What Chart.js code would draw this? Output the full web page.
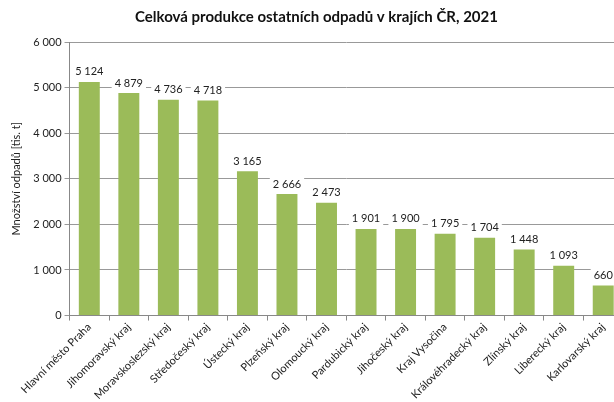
<!DOCTYPE html>
<html>
<head>
<meta charset="utf-8">
<script src="https://cdn.jsdelivr.net/npm/chart.js@4/dist/chart.umd.min.js"></script>
<style>
  html, body { margin: 0; padding: 0; background: #fff; overflow: hidden; }
  #wrap { position: relative; width: 631px; height: 402px; }
</style>
</head>
<body>
<div id="wrap"><canvas id="odpadyChart"></canvas></div>
<script>
  var kraje = ['Hlavní město Praha', 'Jihomoravský kraj', 'Moravskoslezský kraj', 'Středočeský kraj',
    'Ústecký kraj', 'Plzeňský kraj', 'Olomoucký kraj', 'Pardubický kraj', 'Jihočeský kraj',
    'Kraj Vysočina', 'Královéhradecký kraj', 'Zlínský kraj', 'Liberecký kraj', 'Karlovarský kraj'];
  var produkce = [5124, 4879, 4736, 4718, 3165, 2666, 2473, 1901, 1900, 1795, 1704, 1448, 1093, 660];
  var yTicks = [0, 1000, 2000, 3000, 4000, 5000, 6000];

  var FONT = 'Lato, "Open Sans", sans-serif';

  function fmt(v) {
    return String(v).replace(/\B(?=(\d{3})+(?!\d))/g, ' ');
  }

  // value labels above the bars, white box behind (like Excel)
  var barLabels = {
    id: 'barLabels',
    afterDatasetsDraw: function (chart) {
      var ctx = chart.ctx;
      var meta = chart.getDatasetMeta(0);
      ctx.save();
      ctx.font = '11px ' + FONT;
      ctx.textAlign = 'center';
      ctx.textBaseline = 'middle';
      meta.data.forEach(function (bar, i) {
        var txt = fmt(produkce[i]);
        var w = ctx.measureText(txt).width;
        var y = bar.y - 10;
        ctx.fillStyle = '#fff';
        ctx.fillRect(bar.x - w / 2 - 3, y - 7, w + 6, 14);
        ctx.fillStyle = '#222';
        ctx.fillText(txt, bar.x, y);
      });
      ctx.restore();
    }
  };

  var ch = new Chart(document.getElementById('odpadyChart').getContext('2d'), {
    type: 'bar',
    data: {
      labels: kraje,
      datasets: [{
        data: produkce,
        backgroundColor: '#9bbb59',
        borderWidth: 0,
        barPercentage: 0.53,
        categoryPercentage: 1
      }]
    },
    options: {
      responsive: true,
      maintainAspectRatio: false,
      animation: false,
      layout: { padding: { left: 10, right: 8, top: 5, bottom: 0 } },
      plugins: {
        legend: { display: false },
        tooltip: { enabled: false },
        title: {
          display: true,
          text: 'Celková produkce ostatních odpadů v krajích ČR, 2021',
          color: '#111',
          font: { family: FONT, size: 15, weight: 'bold' },
          padding: { top: 3, bottom: 16 }
        }
      },
      scales: {
        x: {
          grid: { display: true, drawOnChartArea: false, offset: true, color: '#888', tickLength: 5 },
          border: { color: '#888' },
          ticks: {
            color: '#222',
            font: { family: FONT, size: 11 },
            minRotation: 45,
            maxRotation: 45,
            padding: 0
          }
        },
        y: {
          min: 0,
          max: 6000,
          afterBuildTicks: function (axis) {
            axis.ticks = yTicks.map(function (v) { return { value: v }; });
          },
          grid: { color: '#999', tickLength: 5 },
          border: { color: '#888' },
          ticks: {
            color: '#222',
            font: { family: FONT, size: 11 },
            padding: 3,
            callback: function (v) { return fmt(v); }
          },
          title: {
            display: true,
            text: 'Množství odpadů [tis. t]',
            color: '#222',
            font: { family: FONT, size: 11 },
            padding: { top: 0, bottom: 7 }
          }
        }
      }
    },
    plugins: [barLabels]
  });
</script>
</body>
</html>
